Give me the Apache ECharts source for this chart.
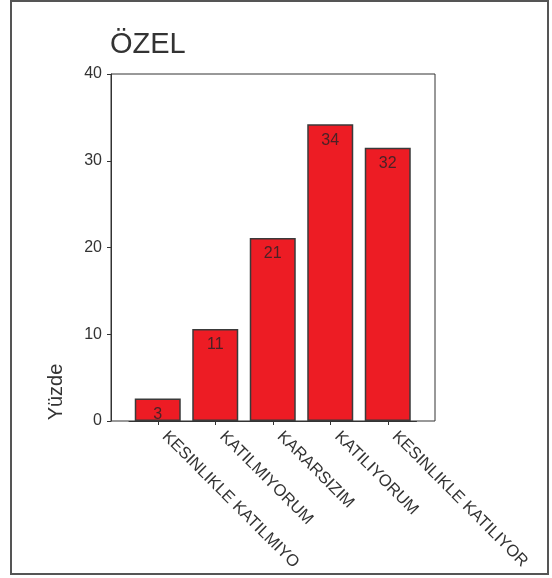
<!DOCTYPE html>
<html>
<head>
<meta charset="utf-8">
<script src="https://cdn.jsdelivr.net/npm/echarts@6/dist/echarts.min.js"></script>
<style>html,body{margin:0;padding:0;background:#fff}#c{width:552px;height:578px}</style>
</head>
<body>
<div id="c"></div>
<script>
var titleText = 'ÖZEL';
var yName = 'Yüzde';
var categories = ['KESINLIKLE KATILMIYO', 'KATILMIYORUM', 'KARARSIZIM', 'KATILIYORUM', 'KESINLIKLE KATILIYOR'];
var percents = [2.6, 10.6, 21.1, 34.2, 31.5];
var yMin = 0, yMax = 40, yStep = 10;

var chart = echarts.init(document.getElementById('c'), null, {renderer: 'canvas'});
var font = 'Liberation Sans, Arial, Helvetica, sans-serif';
chart.setOption({
  animation: false,
  backgroundColor: '#fff',
  title: {
    text: titleText, left: 105, top: 25,
    textStyle: {fontFamily: font, fontSize: 29, fontWeight: 'normal', color: '#333'}
  },
  graphic: [
    {type: 'rect', shape: {x: 11, y: 1, width: 537, height: 573}, style: {fill: 'none', stroke: '#555', lineWidth: 2}, silent: true},
    {type: 'text', x: 46, y: 392, rotation: Math.PI / 2, style: {text: yName, fontFamily: font, fontSize: 20, fill: '#333', align: 'center', verticalAlign: 'top'}}
  ],
  grid: [
    {left: 111, top: 74, width: 324, height: 347, show: true, borderColor: '#333', borderWidth: 1, backgroundColor: 'transparent', containLabel: false},
    {left: 129, top: 74, width: 287.5, height: 347, containLabel: false}
  ],
  xAxis: [
    {gridIndex: 0, type: 'value', show: false, min: 0, max: 1},
    {gridIndex: 1, type: 'category', data: categories, boundaryGap: true,
      axisLine: {show: true, lineStyle: {color: '#333', width: 1}},
      axisTick: {show: true, alignWithLabel: true, length: 4, lineStyle: {color: '#333'}},
      axisLabel: {rotate: -45, interval: 0, margin: 6, padding: [0, 0, 0, 10], fontFamily: font, fontSize: 16.5, color: '#333'}
    }
  ],
  yAxis: [
    {gridIndex: 0, type: 'value', min: yMin, max: yMax, interval: yStep,
      axisLine: {show: true, lineStyle: {color: '#333', width: 1}},
      axisTick: {show: true, length: 4, lineStyle: {color: '#333'}},
      axisLabel: {margin: 9, fontFamily: font, fontSize: 16, color: '#333'},
      splitLine: {show: false}
    },
    {gridIndex: 1, type: 'value', min: yMin, max: yMax, interval: yStep, show: false, splitLine: {show: false}}
  ],
  series: [{
    type: 'bar', xAxisIndex: 1, yAxisIndex: 1,
    data: percents, barWidth: 46,
    itemStyle: {color: '#ed1c24', borderColor: '#3a3a3a', borderWidth: 1.5},
    label: {show: true, position: 'insideTop', distance: 8, fontFamily: font, fontSize: 16, color: '#4a2226',
      formatter: function (p) { return Math.round(p.value); }}
  }]
});
</script>
</body>
</html>
